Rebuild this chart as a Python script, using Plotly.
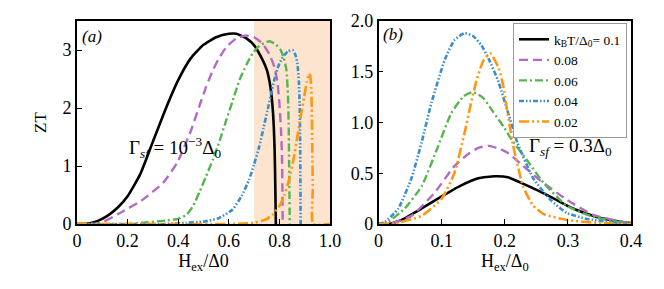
import plotly.graph_objects as go

# ---------------- data: panel (a), Gamma_sf = 1e-3 Delta0 ----------------
a_black_x = [0.0, 0.03, 0.08, 0.12, 0.16, 0.2, 0.25, 0.3, 0.35, 0.4, 0.45, 0.5, 0.55, 0.6, 0.63, 0.67, 0.7, 0.73, 0.75, 0.765, 0.775, 0.781, 0.784, 0.786]
a_black_y = [0.0, 0.0, 0.05, 0.14, 0.28, 0.48, 0.86, 1.42, 1.98, 2.48, 2.86, 3.09, 3.22, 3.28, 3.28, 3.2, 3.08, 2.86, 2.66, 2.35, 1.9, 1.3, 0.6, 0.0]

a_purple_x = [0.0, 0.06, 0.1, 0.17, 0.26, 0.34, 0.395, 0.446, 0.485, 0.51, 0.537, 0.56, 0.59, 0.63, 0.668, 0.7, 0.733, 0.76, 0.78, 0.792, 0.8, 0.806, 0.81, 0.812, 0.813]
a_purple_y = [0.0, 0.0, 0.03, 0.19, 0.42, 0.71, 1.05, 1.56, 2.05, 2.36, 2.65, 2.85, 3.05, 3.2, 3.25, 3.22, 3.11, 2.93, 2.71, 2.45, 2.08, 1.65, 1.22, 0.6, 0.0]

a_green_x = [0.0, 0.2, 0.28, 0.35, 0.4, 0.433, 0.46, 0.484, 0.51, 0.537, 0.565, 0.59, 0.615, 0.642, 0.67, 0.694, 0.72, 0.76, 0.785, 0.806, 0.82, 0.828, 0.834, 0.837, 0.839, 0.841]
a_green_y = [0.0, 0.0, 0.03, 0.06, 0.09, 0.16, 0.32, 0.55, 0.82, 1.11, 1.45, 1.79, 2.12, 2.48, 2.75, 2.94, 3.07, 3.15, 3.1, 2.99, 2.82, 2.65, 2.2, 1.6, 0.8, 0.0]

a_blue_x = [0.0, 0.35, 0.43, 0.5, 0.56, 0.615, 0.65, 0.68, 0.7, 0.72, 0.737, 0.753, 0.77, 0.786, 0.8, 0.819, 0.835, 0.852, 0.863, 0.871, 0.877, 0.88, 0.882, 0.883, 0.884]
a_blue_y = [0.0, 0.0, 0.02, 0.04, 0.1, 0.25, 0.48, 0.76, 1.03, 1.33, 1.65, 1.96, 2.3, 2.59, 2.77, 2.91, 2.98, 3.0, 2.92, 2.77, 2.45, 2.08, 1.4, 0.7, 0.0]

a_orange_x = [0.0, 0.6, 0.7, 0.747, 0.775, 0.8, 0.82, 0.838, 0.855, 0.871, 0.885, 0.898, 0.908, 0.917, 0.922, 0.926, 0.928, 0.93, 0.932, 0.933, 1.0]
a_orange_y = [0.0, 0.0, 0.02, 0.08, 0.17, 0.31, 0.5, 0.76, 1.1, 1.51, 1.88, 2.19, 2.45, 2.59, 2.55, 2.35, 2.0, 1.3, 0.6, 0.0, 0.0]

# ---------------- data: panel (b), Gamma_sf = 0.3 Delta0 ----------------
b_black_x = [0.0, 0.017, 0.04, 0.062, 0.094, 0.131, 0.158, 0.184, 0.205, 0.235, 0.272, 0.309, 0.346, 0.387, 0.4]
b_black_y = [0.0, 0.0, 0.05, 0.13, 0.25, 0.38, 0.45, 0.47, 0.46, 0.38, 0.27, 0.15, 0.07, 0.02, 0.01]

b_purple_x = [0.0, 0.017, 0.052, 0.089, 0.12, 0.14, 0.158, 0.175, 0.192, 0.205, 0.224, 0.256, 0.298, 0.34, 0.387, 0.4]
b_purple_y = [0.0, 0.0, 0.08, 0.31, 0.57, 0.68, 0.75, 0.77, 0.74, 0.7, 0.6, 0.43, 0.24, 0.09, 0.02, 0.01]

b_green_x = [0.0, 0.01, 0.041, 0.068, 0.094, 0.115, 0.135, 0.15, 0.166, 0.182, 0.198, 0.211, 0.235, 0.261, 0.298, 0.34, 0.383, 0.4]
b_green_y = [0.0, 0.0, 0.15, 0.37, 0.76, 1.09, 1.26, 1.3, 1.24, 1.1, 0.96, 0.83, 0.63, 0.41, 0.18, 0.07, 0.02, 0.01]

b_blue_x = [0.0, 0.01, 0.031, 0.052, 0.068, 0.084, 0.105, 0.12, 0.136, 0.15, 0.163, 0.175, 0.19, 0.205, 0.22, 0.245, 0.272, 0.298, 0.33, 0.367, 0.4]
b_blue_y = [0.0, 0.02, 0.15, 0.45, 0.8, 1.2, 1.62, 1.81, 1.88, 1.85, 1.76, 1.62, 1.4, 1.1, 0.8, 0.45, 0.24, 0.11, 0.05, 0.02, 0.0]

b_orange_x = [0.0, 0.02, 0.068, 0.1, 0.12, 0.136, 0.145, 0.155, 0.166, 0.177, 0.19, 0.198, 0.203, 0.208, 0.213, 0.229, 0.245, 0.261, 0.298, 0.35, 0.4]
b_orange_y = [0.0, 0.0, 0.08, 0.25, 0.5, 0.89, 1.15, 1.41, 1.61, 1.68, 1.54, 1.35, 1.15, 0.96, 0.78, 0.37, 0.18, 0.1, 0.04, 0.01, 0.0]

legend_labels = ["k<sub>B</sub>T/Δ<sub>0</sub>= 0.1", "0.08", "0.06", "0.04", "0.02"]

a_xticks = [0, 0.2, 0.4, 0.6, 0.8, 1.0]
a_xticktext = ["0", "0.2", "0.4", "0.6", "0.8", "1.0"]
a_yticks = [0, 1, 2, 3]
b_xticks = [0, 0.1, 0.2, 0.3, 0.4]
b_xticktext = ["0", "0.1", "0.2", "0.3", "0.4"]
b_yticks = [0, 0.5, 1.0, 1.5, 2.0]
b_yticktext = ["0", "0.5", "1.0", "1.5", "2.0"]

# ---------------- styles ----------------
colors = ["#000000", "#b36ac4", "#58b44f", "#3b8ecb", "#ff9810"]
dashes = ["solid", "9px,5px", "8px,3px,2px,3px",
          "5px,2px,1.5px,2px,1.5px,2px", "10px,3px,2px,3px,2px,3px"]
widths = [2.6, 2.4, 2.4, 2.6, 2.6]

FONT = "Liberation Serif, Times New Roman, DejaVu Serif, serif"

fig = go.Figure()

a_sets = [(a_black_x, a_black_y), (a_purple_x, a_purple_y), (a_green_x, a_green_y),
          (a_blue_x, a_blue_y), (a_orange_x, a_orange_y)]
b_sets = [(b_black_x, b_black_y), (b_purple_x, b_purple_y), (b_green_x, b_green_y),
          (b_blue_x, b_blue_y), (b_orange_x, b_orange_y)]

for i, (xs, ys) in enumerate(a_sets):
    fig.add_trace(go.Scatter(x=xs, y=ys, mode="lines", xaxis="x", yaxis="y",
                             line=dict(color=colors[i], dash=dashes[i], width=widths[i],
                                       shape="spline", smoothing=0.5),
                             showlegend=False))
for i, (xs, ys) in enumerate(b_sets):
    fig.add_trace(go.Scatter(x=xs, y=ys, mode="lines", xaxis="x2", yaxis="y2",
                             name=legend_labels[i],
                             line=dict(color=colors[i], dash=dashes[i], width=widths[i],
                                       shape="spline", smoothing=0.5),
                             showlegend=True))

W, H = 664, 289
axis_common = dict(showline=True, mirror=True, linecolor="black", linewidth=1.6,
                   ticks="inside", ticklen=5, tickwidth=1.3, tickcolor="black",
                   showgrid=False, zeroline=False, automargin=False,
                   tickfont=dict(family=FONT, size=18, color="black"))

fig.update_layout(
    width=W, height=H,
    margin=dict(l=0, r=0, t=0, b=0),
    paper_bgcolor="white", plot_bgcolor="white",
    font=dict(family=FONT, color="black"),
    xaxis=dict(domain=[77 / W, 330 / W], range=[0, 1.0], tickvals=a_xticks, ticktext=a_xticktext,
               title=dict(text="H<sub>ex</sub>/Δ0", font=dict(family=FONT, size=18), standoff=4),
               anchor="y", **axis_common),
    yaxis=dict(domain=[(H - 224) / H, (H - 21) / H], range=[0, 3.5], tickvals=a_yticks,
               title=dict(text="ZT", font=dict(family=FONT, size=17), standoff=12),
               anchor="x", **axis_common),
    xaxis2=dict(domain=[378.6 / W, 631 / W], range=[0, 0.4], tickvals=b_xticks, ticktext=b_xticktext,
                title=dict(text="H<sub>ex</sub>/Δ<sub>0</sub>", font=dict(family=FONT, size=18), standoff=4),
                anchor="y2", **axis_common),
    yaxis2=dict(domain=[(H - 224) / H, (H - 21) / H], range=[0, 2.0], tickvals=b_yticks,
                ticktext=b_yticktext, anchor="x2", **axis_common),
    legend=dict(x=627 / W, xanchor="right", y=1 - 23 / H, yanchor="top",
                bgcolor="white", bordercolor="#999999", borderwidth=1,
                font=dict(family=FONT, size=13.5, color="black"),
                tracegroupgap=0, itemwidth=30),
    shapes=[dict(type="rect", xref="x", yref="y", x0=0.7, x1=1.0, y0=0, y1=3.5,
                 fillcolor="rgba(244,164,96,0.3)", line=dict(width=0), layer="below")],
    annotations=[
        dict(text="<i>(a)</i>", xref="paper", yref="paper", x=80 / W, y=1 - 25 / H,
             xanchor="left", yanchor="top", showarrow=False, font=dict(family=FONT, size=17)),
        dict(text="<i>(b)</i>", xref="paper", yref="paper", x=381 / W, y=1 - 23 / H,
             xanchor="left", yanchor="top", showarrow=False, font=dict(family=FONT, size=17)),
        dict(text="Γ<sub><i>sf</i></sub> = 10<sup>−3</sup>Δ<sub>0</sub>", xref="paper", yref="paper",
             x=175 / W, y=1 - 147 / H, xanchor="center", yanchor="middle", showarrow=False,
             font=dict(family=FONT, size=19)),
        dict(text="Γ<sub><i>sf</i></sub> = 0.3Δ<sub>0</sub>", xref="paper", yref="paper",
             x=570 / W, y=1 - 147 / H, xanchor="center", yanchor="middle", showarrow=False,
             font=dict(family=FONT, size=19)),
    ],
)

fig.write_html("out.html", config={"displayModeBar": False},
               post_script="document.body.style.margin='0';document.body.style.padding='0';")
